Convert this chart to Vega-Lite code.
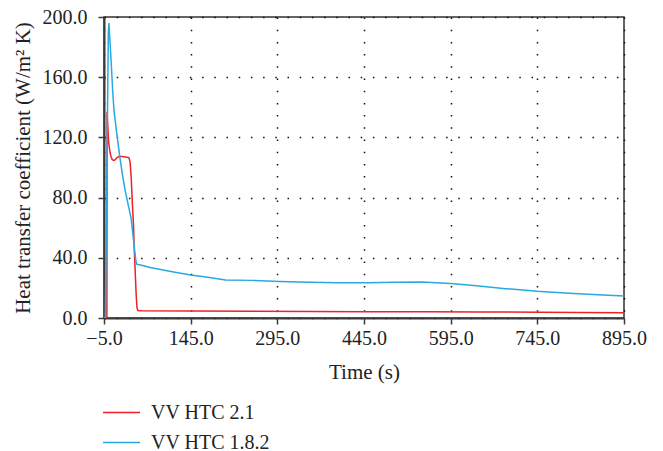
{
  "$schema": "https://vega.github.io/schema/vega-lite/v6.json",
  "width": 520,
  "height": 301,
  "autosize": {"type": "none"},
  "padding": {"left": 104, "top": 17, "right": 39, "bottom": 133},
  "background": "white",
  "config": {
    "font": "Liberation Serif",
    "view": {"stroke": "#333333", "strokeWidth": 1.5},
    "axis": {
      "domainColor": "#3a3a3a",
      "domainWidth": 2,
      "tickColor": "#3a3a3a",
      "tickWidth": 1.5,
      "tickSize": 6,
      "labelFont": "Liberation Serif",
      "labelFontSize": 20,
      "labelColor": "#222222",
      "labelFlush": false,
      "titleFont": "Liberation Serif",
      "titleFontSize": 21,
      "titleFontWeight": "normal",
      "titleColor": "#222222",
      "gridColor": "#111111",
      "gridWidth": 1.5,
      "gridDash": [1.5, 10.7],
      "gridOpacity": 1
    },
    "legend": {
      "labelFont": "Liberation Serif",
      "labelFontSize": 20,
      "labelColor": "#222222"
    }
  },
  "data": {
    "values": [
      {"t": -5, "v": 0, "series": "VV HTC 2.1"},
      {"t": 0, "v": 0, "series": "VV HTC 2.1"},
      {"t": 0.3, "v": 137, "series": "VV HTC 2.1"},
      {"t": 1.5, "v": 128, "series": "VV HTC 2.1"},
      {"t": 3, "v": 117, "series": "VV HTC 2.1"},
      {"t": 5, "v": 111, "series": "VV HTC 2.1"},
      {"t": 7, "v": 107.5, "series": "VV HTC 2.1"},
      {"t": 9, "v": 105.5, "series": "VV HTC 2.1"},
      {"t": 11, "v": 104.8, "series": "VV HTC 2.1"},
      {"t": 13, "v": 104.8, "series": "VV HTC 2.1"},
      {"t": 15, "v": 105.5, "series": "VV HTC 2.1"},
      {"t": 18, "v": 106.8, "series": "VV HTC 2.1"},
      {"t": 21, "v": 107.3, "series": "VV HTC 2.1"},
      {"t": 26, "v": 107.3, "series": "VV HTC 2.1"},
      {"t": 32, "v": 107, "series": "VV HTC 2.1"},
      {"t": 38, "v": 106.6, "series": "VV HTC 2.1"},
      {"t": 40, "v": 104, "series": "VV HTC 2.1"},
      {"t": 42, "v": 94, "series": "VV HTC 2.1"},
      {"t": 44, "v": 77, "series": "VV HTC 2.1"},
      {"t": 46, "v": 62, "series": "VV HTC 2.1"},
      {"t": 47.5, "v": 45, "series": "VV HTC 2.1"},
      {"t": 49, "v": 31, "series": "VV HTC 2.1"},
      {"t": 50.5, "v": 17, "series": "VV HTC 2.1"},
      {"t": 52, "v": 7, "series": "VV HTC 2.1"},
      {"t": 53.5, "v": 5, "series": "VV HTC 2.1"},
      {"t": 60, "v": 4.8, "series": "VV HTC 2.1"},
      {"t": 150, "v": 4.7, "series": "VV HTC 2.1"},
      {"t": 250, "v": 4.5, "series": "VV HTC 2.1"},
      {"t": 350, "v": 4.3, "series": "VV HTC 2.1"},
      {"t": 450, "v": 4.2, "series": "VV HTC 2.1"},
      {"t": 550, "v": 4.1, "series": "VV HTC 2.1"},
      {"t": 650, "v": 4.0, "series": "VV HTC 2.1"},
      {"t": 750, "v": 3.8, "series": "VV HTC 2.1"},
      {"t": 820, "v": 3.6, "series": "VV HTC 2.1"},
      {"t": 895, "v": 3.5, "series": "VV HTC 2.1"},
      {"t": -5, "v": 0, "series": "VV HTC 1.8.2"},
      {"t": -2.7, "v": 0, "series": "VV HTC 1.8.2"},
      {"t": 2.5, "v": 190, "series": "VV HTC 1.8.2"},
      {"t": 3.6, "v": 196, "series": "VV HTC 1.8.2"},
      {"t": 5, "v": 186, "series": "VV HTC 1.8.2"},
      {"t": 8, "v": 166, "series": "VV HTC 1.8.2"},
      {"t": 10, "v": 151, "series": "VV HTC 1.8.2"},
      {"t": 12.3, "v": 138, "series": "VV HTC 1.8.2"},
      {"t": 17, "v": 123, "series": "VV HTC 1.8.2"},
      {"t": 22.2, "v": 107.6, "series": "VV HTC 1.8.2"},
      {"t": 27, "v": 95, "series": "VV HTC 1.8.2"},
      {"t": 32, "v": 84, "series": "VV HTC 1.8.2"},
      {"t": 37, "v": 75, "series": "VV HTC 1.8.2"},
      {"t": 42, "v": 66, "series": "VV HTC 1.8.2"},
      {"t": 44, "v": 59, "series": "VV HTC 1.8.2"},
      {"t": 46, "v": 52, "series": "VV HTC 1.8.2"},
      {"t": 48, "v": 45, "series": "VV HTC 1.8.2"},
      {"t": 50, "v": 38.5, "series": "VV HTC 1.8.2"},
      {"t": 51.5, "v": 35.8, "series": "VV HTC 1.8.2"},
      {"t": 60, "v": 35, "series": "VV HTC 1.8.2"},
      {"t": 75, "v": 33.5, "series": "VV HTC 1.8.2"},
      {"t": 95, "v": 32, "series": "VV HTC 1.8.2"},
      {"t": 120, "v": 30.2, "series": "VV HTC 1.8.2"},
      {"t": 145, "v": 28.6, "series": "VV HTC 1.8.2"},
      {"t": 175, "v": 27, "series": "VV HTC 1.8.2"},
      {"t": 205, "v": 25.3, "series": "VV HTC 1.8.2"},
      {"t": 250, "v": 25, "series": "VV HTC 1.8.2"},
      {"t": 300, "v": 24.2, "series": "VV HTC 1.8.2"},
      {"t": 350, "v": 23.8, "series": "VV HTC 1.8.2"},
      {"t": 400, "v": 23.4, "series": "VV HTC 1.8.2"},
      {"t": 450, "v": 23.5, "series": "VV HTC 1.8.2"},
      {"t": 500, "v": 23.8, "series": "VV HTC 1.8.2"},
      {"t": 545, "v": 23.9, "series": "VV HTC 1.8.2"},
      {"t": 595, "v": 23, "series": "VV HTC 1.8.2"},
      {"t": 640, "v": 21.5, "series": "VV HTC 1.8.2"},
      {"t": 690, "v": 19.5, "series": "VV HTC 1.8.2"},
      {"t": 745, "v": 17.7, "series": "VV HTC 1.8.2"},
      {"t": 800, "v": 16.4, "series": "VV HTC 1.8.2"},
      {"t": 850, "v": 15.5, "series": "VV HTC 1.8.2"},
      {"t": 895, "v": 14.6, "series": "VV HTC 1.8.2"}
    ]
  },
  "mark": {"type": "line", "strokeWidth": 1.5, "interpolate": "linear", "clip": true},
  "encoding": {
    "x": {
      "field": "t",
      "type": "quantitative",
      "scale": {"domain": [-5, 895], "nice": false, "zero": false},
      "axis": {
        "title": "Time (s)",
        "values": [-5, 145, 295, 445, 595, 745, 895],
        "format": ".1f",
        "labelPadding": 4,
        "titlePadding": 13,
        "grid": true
      }
    },
    "y": {
      "field": "v",
      "type": "quantitative",
      "scale": {"domain": [0, 200], "nice": false},
      "axis": {
        "title": "Heat transfer coefficient (W/m² K)",
        "values": [0, 40, 80, 120, 160, 200],
        "format": ".1f",
        "labelPadding": 11,
        "titleX": -71,
        "grid": true
      }
    },
    "color": {
      "field": "series",
      "type": "nominal",
      "scale": {"domain": ["VV HTC 2.1", "VV HTC 1.8.2"], "range": ["#ec2227", "#29a9e1"]},
      "legend": {
        "title": null,
        "orient": "none",
        "legendX": -2,
        "legendY": 376,
        "direction": "vertical",
        "symbolType": "stroke",
        "symbolSize": 1369,
        "symbolStrokeWidth": 1.5,
        "rowPadding": -6,
        "labelOffset": 10
      }
    }
  }
}
